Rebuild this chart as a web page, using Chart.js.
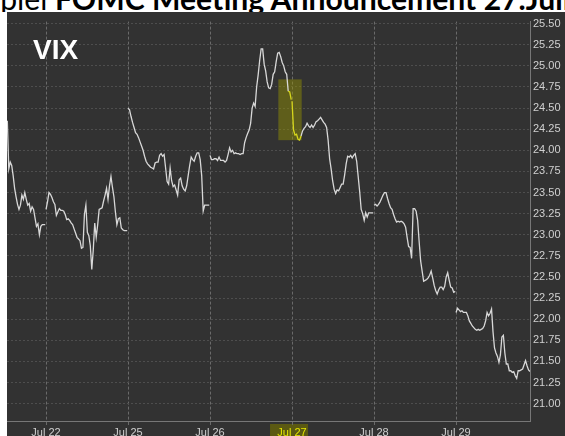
<!DOCTYPE html>
<html>
<head>
<meta charset="utf-8">
<script src="https://cdn.jsdelivr.net/npm/chart.js@4.4.1/dist/chart.umd.min.js"></script>
<style>
  html, body { margin: 0; padding: 0; background: #ffffff; }
  body { width: 565px; height: 436px; position: relative; overflow: hidden; }
  #title { position: absolute; left: 0; top: 0; width: 565px; height: 12px; overflow: hidden; background: #ffffff; z-index: 2; }
  #tt { position: absolute; left: 0; top: 0; white-space: nowrap; font-family: Lato, "Open Sans", sans-serif; font-size: 30px; line-height: 1; color: #000; }
  #tt b { font-weight: 700; }
  #bl { display: inline-block; width: 0; height: 0; vertical-align: baseline; }
  #wrap { position: absolute; left: 7px; top: 12px; width: 558px; height: 424px; }
  #vix { position: absolute; left: 33px; top: 36px; font-family: "Liberation Sans", Arial, sans-serif; font-weight: 700; font-size: 28px; line-height: 28px; color: #ffffff; z-index: 3; }
</style>
</head>
<body>
<div id="title"><span id="tt"><span id="pre">Beispiel </span><b><span id="main">FOMC Meeting Announcement 27.</span>Juli 2016</b><i id="bl"></i></span></div>
<div id="wrap"><canvas id="c" width="558" height="424"></canvas></div>
<div id="vix">VIX</div>
<script>
// ---- data (VIX, day units on the x axis; Jul 22 = 0) ----
const dayLabels = ['Jul 22', 'Jul 25', 'Jul 26', 'Jul 27', 'Jul 28', 'Jul 29'];
const highlightDay = 'Jul 27';

const jul21 = [24.35, 23.78, 23.86, 23.82, 23.70, 23.55, 23.45, 23.36, 23.30, 23.35, 23.47, 23.42, 23.50, 23.42, 23.35, 23.37, 23.28, 23.33, 23.30, 23.20, 23.10, 23.13, 23.00, 23.10, 23.12, 23.12, 23.12];
const jul22 = [23.30, 23.39, 23.50, 23.48, 23.44, 23.39, 23.36, 23.23, 23.27, 23.31, 23.29, 23.29, 23.28, 23.24, 23.18, 23.19, 23.17, 23.14, 23.12, 23.07, 23.02, 22.97, 22.95, 22.93, 22.84, 22.85, 23.24, 23.35, 23.03, 22.99, 22.87, 22.59, 22.82, 23.14, 22.97, 23.12, 23.30, 23.31, 23.32, 23.40, 23.47, 23.55, 23.42, 23.58, 23.69, 23.56, 23.45, 23.27, 23.12, 23.19, 23.20, 23.08, 23.06, 23.05, 23.05, 23.05];
const jul25 = [24.50, 24.48, 24.40, 24.33, 24.27, 24.21, 24.19, 24.15, 24.10, 24.05, 24.00, 23.93, 23.87, 23.84, 23.82, 23.80, 23.79, 23.78, 23.85, 23.86, 23.86, 23.94, 23.96, 23.93, 23.95, 23.79, 23.63, 23.60, 23.79, 23.64, 23.57, 23.59, 23.53, 23.47, 23.65, 23.67, 23.58, 23.54, 23.52, 23.58, 23.70, 23.82, 23.92, 23.89, 23.87, 23.93, 23.97, 23.97, 23.89, 23.70, 23.28, 23.35, 23.35, 23.35, 23.35];
const jul26 = [23.94, 23.89, 23.89, 23.90, 23.90, 23.88, 23.92, 23.88, 23.88, 23.88, 23.86, 23.88, 23.95, 24.03, 23.98, 24.00, 23.96, 23.97, 23.96, 23.96, 23.95, 23.96, 23.96, 24.09, 24.15, 24.20, 24.24, 24.32, 24.50, 24.56, 24.52, 24.75, 24.89, 25.06, 25.20, 25.20, 25.02, 24.94, 24.81, 24.74, 24.73, 24.78, 24.90, 24.93, 25.05, 25.15, 25.16, 25.11, 25.04, 25.00, 24.93, 24.90, 24.70, 24.69, 24.60];
const jul27 = [24.58, 24.24, 24.18, 24.19, 24.13, 24.12, 24.17, 24.23, 24.26, 24.28, 24.32, 24.29, 24.27, 24.30, 24.27, 24.30, 24.34, 24.35, 24.37, 24.39, 24.36, 24.33, 24.31, 24.27, 24.12, 23.90, 23.78, 23.64, 23.54, 23.49, 23.53, 23.52, 23.56, 23.60, 23.60, 23.71, 23.84, 23.93, 23.92, 23.94, 23.91, 23.94, 23.96, 23.87, 23.69, 23.51, 23.30, 23.25, 23.17, 23.26, 23.21, 23.26, 23.26, 23.26, 23.26];
const jul28 = [23.35, 23.36, 23.34, 23.36, 23.39, 23.43, 23.47, 23.50, 23.50, 23.43, 23.37, 23.32, 23.30, 23.24, 23.19, 23.15, 23.16, 23.15, 23.16, 23.15, 23.13, 23.09, 22.97, 22.86, 22.85, 22.72, 23.31, 23.31, 23.28, 23.17, 22.92, 22.69, 22.57, 22.45, 22.46, 22.47, 22.49, 22.52, 22.57, 22.49, 22.40, 22.34, 22.30, 22.35, 22.38, 22.38, 22.35, 22.39, 22.50, 22.55, 22.46, 22.38, 22.37, 22.32, 22.33];
const jul29 = [22.08, 22.13, 22.11, 22.09, 22.10, 22.08, 22.08, 22.08, 22.04, 21.98, 21.95, 21.92, 21.90, 21.88, 21.87, 21.88, 21.87, 21.88, 21.89, 21.92, 21.98, 22.08, 22.04, 22.07, 22.12, 21.85, 21.66, 21.60, 21.56, 21.49, 21.58, 21.79, 21.81, 21.60, 21.47, 21.47, 21.39, 21.39, 21.37, 21.38, 21.33, 21.30, 21.39, 21.39, 21.40, 21.41, 21.46, 21.51, 21.45, 21.40, 21.38];

// session open/close times in day units (Jul 22 open = 0)
const sessionOpen  = [-0.472, 0, 1, 2, 3, 4, 5];
const sessionClose = [-0.01, 0.99, 1.99, 2.99, 3.99, 4.99, 5.902];

// highlighted window around the announcement (time range and value range)
const boxTime  = [2.833, 3.118];
const boxValue = [24.12, 24.84];

// axis ranges
const xRange = [-0.476, 5.902];
const yRange = [20.795, 25.524];
const yStep = 0.25;
</script>
<script>
// title placement (layout only)
(function () {
  const tt = document.getElementById('tt');
  const main = document.getElementById('main');
  const pre = document.getElementById('pre');
  const bl = document.getElementById('bl');
  const w = main.getBoundingClientRect().width;
  const fs = 30 * 471 / w;
  tt.style.fontSize = fs + 'px';
  const preW = pre.getBoundingClientRect().width;
  tt.style.left = (55 - preW) + 'px';
  tt.style.top = (10 - bl.offsetTop) + 'px';
})();

const sessions = [jul21, jul22, jul25, jul26, jul27, jul28, jul29];
const points = [];
sessions.forEach((vals, s) => {
  const a = sessionOpen[s], b = sessionClose[s];
  vals.forEach((v, i) => points.push({ x: a + (b - a) * i / (vals.length - 1), y: v }));
  points.push({ x: b + 0.004, y: null });
});

const hiIndex = dayLabels.indexOf(highlightDay);
const inBox = p => p && p.x >= boxTime[0] && p.x <= boxTime[1] && p.y >= boxValue[0] && p.y <= boxValue[1];

const bgPlugin = {
  id: 'bg',
  beforeDraw(chart) {
    const { ctx, width, height, scales } = chart;
    ctx.save();
    ctx.fillStyle = '#323232';
    ctx.fillRect(0, 0, width, height);
    const xs = scales.x;
    const px = xs.getPixelForValue(hiIndex);
    ctx.fillStyle = '#5b5912';
    ctx.fillRect(px - 22, xs.top + 3, 38, height - xs.top - 3);
    ctx.restore();
  },
  beforeDatasetsDraw(chart) {
    const { ctx, scales } = chart;
    const x0 = scales.x.getPixelForValue(boxTime[0]);
    const x1 = scales.x.getPixelForValue(boxTime[1]);
    const y0 = scales.y.getPixelForValue(boxValue[1]);
    const y1 = scales.y.getPixelForValue(boxValue[0]);
    ctx.save();
    ctx.fillStyle = 'rgba(150,148,0,0.45)';
    ctx.fillRect(x0, y0, x1 - x0, y1 - y0);
    ctx.restore();
  }
};

new Chart(document.getElementById('c'), {
  type: 'line',
  data: {
    datasets: [{
      data: points,
      borderColor: '#d8d8d8',
      borderWidth: 1.3,
      pointRadius: 0,
      tension: 0,
      spanGaps: false,
      segment: {
        borderColor: c => (inBox(c.p0.parsed) && inBox(c.p1.parsed)) ? '#d6d61c' : undefined
      }
    }]
  },
  options: {
    responsive: false,
    animation: false,
    layout: { padding: 0 },
    plugins: { legend: { display: false }, tooltip: { enabled: false }, title: { display: false } },
    scales: {
      x: {
        type: 'linear',
        min: xRange[0],
        max: xRange[1],
        afterBuildTicks: s => { s.ticks = dayLabels.map((l, i) => ({ value: i })); },
        afterFit: s => { s.height = 15; },
        ticks: {
          autoSkip: false,
          maxRotation: 0,
          padding: 0,
          callback: v => dayLabels[v],
          color: c => (c.tick && c.tick.value === hiIndex) ? '#e6e600' : '#cfcfcf',
          font: { family: '"Liberation Sans", Arial, sans-serif', size: 11 }
        },
        grid: {
          color: '#6a6a6a',
          lineWidth: 1,
          tickLength: 5,
          tickColor: '#6a6a6a',
          tickBorderDash: [3, 2]
        },
        border: { display: true, color: '#777777', width: 1, dash: [3, 2] }
      },
      y: {
        position: 'right',
        min: yRange[0],
        max: yRange[1],
        afterFit: s => { s.width = 35; },
        ticks: {
          stepSize: yStep,
          includeBounds: false,
          padding: 3,
          callback: v => Number(v).toFixed(2),
          color: '#d0d0d0',
          font: { family: '"Liberation Sans", Arial, sans-serif', size: 11 }
        },
        grid: { color: '#4e4e4e', lineWidth: 1, drawTicks: false },
        border: { display: true, color: '#777777', width: 1, dash: [2, 2] }
      }
    }
  },
  plugins: [bgPlugin]
});
</script>
</body>
</html>
